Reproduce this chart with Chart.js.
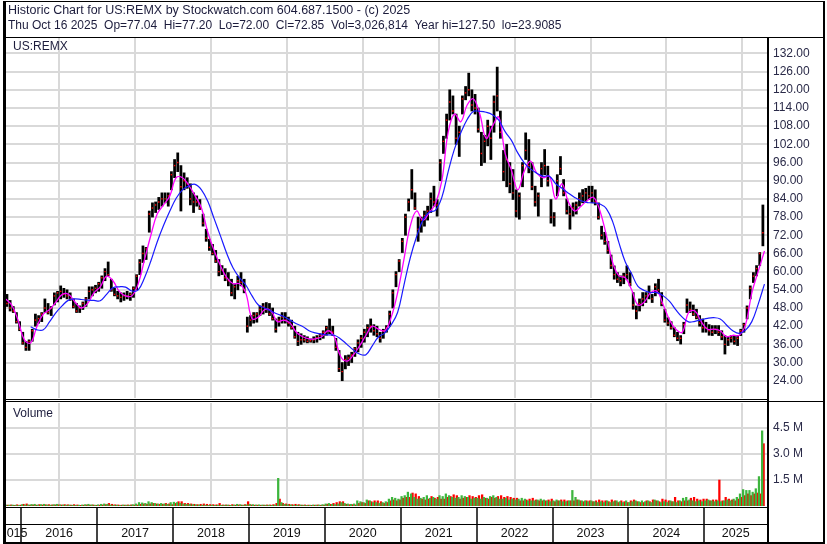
<!DOCTYPE html>
<html>
<head>
<meta charset="utf-8">
<script src="https://cdn.jsdelivr.net/npm/chart.js@4.4.1/dist/chart.umd.min.js"></script>
<style>
  body { margin: 0; background: #fff; }
  #wrap { position: relative; width: 827px; height: 544px; overflow: hidden; font-family: "Liberation Sans", Arial, sans-serif; }
  .txt { position: absolute; font-size: 12px; color: #1c1c3c; white-space: pre; line-height: 14px; }
  canvas { position: absolute; left: 0; }
  .ln { position: absolute; background: #000; }
</style>
</head>
<body>
<div id="wrap">
  <canvas id="price" width="827" height="402" style="top:0"></canvas>
  <canvas id="vol" width="827" height="142" style="top:402px"></canvas>

  <div class="txt" style="left:8px;top:3px;font-size:12.5px">Historic Chart for US:REMX by Stockwatch.com 604.687.1500 - (c) 2025</div>
  <div class="txt" style="left:8px;top:18px">Thu Oct 16 2025  Op=77.04  Hi=77.20  Lo=72.00  Cl=72.85  Vol=3,026,814  Year hi=127.50  lo=23.9085</div>
  <div class="txt" style="left:13px;top:39px">US:REMX</div>
  <div class="txt" style="left:13px;top:406px">Volume</div>

  <!-- frame -->
  <div class="ln" style="left:3px;top:1px;width:822px;height:1px"></div>
  <div class="ln" style="left:3px;top:1px;width:3px;height:542px"></div>
  <div class="ln" style="left:823px;top:1px;width:2px;height:543px"></div>
  <div class="ln" style="left:3px;top:37px;width:822px;height:1px"></div>
  <div class="ln" style="left:767px;top:37px;width:2px;height:507px"></div>
  <div class="ln" style="left:3px;top:399px;width:765px;height:1px"></div>
  <div class="ln" style="left:3px;top:401px;width:822px;height:1px"></div>
  <div class="ln" style="left:3px;top:507px;width:765px;height:1px"></div>
  <div class="ln" style="left:3px;top:524px;width:765px;height:1px"></div>
  <div class="ln" style="left:3px;top:542px;width:822px;height:2px"></div>
</div>

<script>
// semi-monthly bars, Oct 2015 (second half) .. Oct 2025 (first half)
// x unit = months since Jan 1 2016
const firstBar = -2.25;
const barStep = 0.5;

const lows = [
  48.5, 47, 46.5, 43, 40.5,
  36, 34, 34, 37, 42, 43, 43.5, 46.5, 46, 45.5, 49, 50, 51, 51.5, 51, 50.5, 48, 46.5, 46.5, 47.5, 48.5, 51, 52, 53,
  53.5, 54.5, 57, 58.6, 53.5, 52, 51, 50, 50.5, 51, 50.5, 51.5, 54, 59, 63, 64, 73, 78, 79.5, 80.5, 81.6, 82.7, 81.6, 87,
  91, 93, 80, 87, 87.5, 82, 79.5, 81.6, 80.5, 75, 70, 67, 65.5, 63, 58.6, 59, 57, 55.3, 52, 51, 54, 55.3, 53, 40,
  42, 43, 43.3, 45.5, 46, 46.5, 45.5, 44, 40, 42, 43, 43, 42, 41, 38, 35.6, 36, 36.7, 36.5, 36.7, 36.5, 36.7, 37.5, 38,
  39, 39.5, 38.9, 34, 27, 24, 27.9, 29, 30, 32, 33.5, 35, 36.7, 38.5, 40, 39, 38.5, 36.7, 38, 40, 42, 48, 55, 60,
  66.3, 72, 80, 84, 80.5, 70, 73, 75, 77, 79.5, 81.6, 78.3, 90, 99, 104, 110, 112, 102, 98, 112, 116.7, 118, 113, 112,
  106, 95, 96, 101.5, 97, 106, 113, 104, 90, 88, 86, 83.8, 78, 77.3, 88, 97, 92.6, 87, 81.6, 78.3, 88, 92, 88.2, 76,
  75, 85, 92, 85, 79, 74, 78.3, 79, 81.6, 82.7, 83, 83.8, 82.7, 82, 77.3, 70.7, 69, 66, 61, 57.5, 56.4, 55.3, 56, 57.5,
  55.3, 47.6, 44.4, 47, 48.7, 49.8, 51, 49.8, 52, 53, 48.7, 43.3, 42.2, 41, 38.5, 37.2, 36.1, 39.5, 46.5, 46.5, 45.5, 44.4, 42, 40,
  40, 39, 38.9, 39.5, 38.9, 37.5, 32.8, 35.6, 36.7, 36, 35.6, 38.9, 40, 44.4, 51, 56.4, 58.6, 62, 68.5
];
const highs = [
  52.5, 50.5, 48.5, 46.5, 43.5,
  40, 37, 37.5, 41, 46, 45.5, 46.5, 51, 49.5, 48.5, 53, 53.5, 55.3, 54.5, 54, 53, 51, 49.5, 48.7, 50, 51.5, 55, 55, 55.5,
  56.5, 58.6, 61, 63.2, 57.5, 54.5, 53.5, 53, 53, 53.5, 53, 55, 59, 64, 68.5, 68, 80, 82.7, 83, 84.5, 86, 86, 86, 93,
  97, 99.2, 95, 92.6, 91, 89, 86, 85, 83.8, 79, 74, 70.7, 69, 67, 64, 62, 61, 59.7, 57.5, 56, 58.5, 59.7, 57.5, 45,
  45.5, 46.5, 46.5, 48.7, 49.5, 49.8, 49.5, 48, 44.4, 45, 46.5, 46.5, 45, 44, 42, 40, 39.5, 38.9, 38.5, 37.8, 38.5, 38.9, 39.5, 40.5,
  42, 44.4, 42, 38, 34, 30, 32.3, 32.5, 33.4, 35, 37.5, 39, 41, 42.5, 44.4, 42.5, 42, 40, 41, 42.2, 47, 54, 60, 64,
  71, 79, 84, 93.7, 86, 78, 78, 80, 81.6, 86, 88.2, 83.8, 97, 104.7, 112, 120, 118, 112, 108, 118, 121.1, 125.5, 120, 118.5,
  114, 106, 105, 110, 108, 118, 127.5, 113, 100, 102, 96, 93.7, 87, 86, 96, 105.8, 103.6, 96, 88.2, 86, 96, 100.3, 94.8, 83.8,
  79.5, 92, 98, 90.4, 84, 81.6, 82.7, 83, 86, 87.1, 87.5, 88.2, 88.2, 87, 82.7, 75, 73, 70, 65.5, 61.9, 59.7, 58.6, 59.5, 61.9,
  59.7, 53.1, 48.7, 51, 53.1, 53.1, 55.3, 52.5, 56, 57.5, 53.1, 47.6, 44.8, 43.5, 41.5, 40, 38.9, 43.3, 51, 50, 49, 47.6, 45.5, 44.4,
  43.3, 42.5, 42.2, 42.2, 42.2, 40.5, 38.9, 38.5, 38.9, 39, 38.9, 41, 43, 48.7, 55.3, 59.7, 62, 66.3, 82
];
const closes = [
  49.5, 48, 47, 43.5, 41,
  36.5, 35, 37, 40.5, 44, 44.5, 46, 48, 46.5, 48, 52, 53, 53.5, 52.5, 52, 51, 48.5, 47, 48, 49.5, 51, 53.5, 54, 54.5,
  56, 58, 60, 59, 54, 52.5, 52, 51.5, 52, 52, 52.5, 54.5, 58.5, 63, 66, 67.5, 79, 81, 82, 83, 84, 84, 85, 92,
  95, 96, 88, 90, 89, 84, 83, 83, 81, 76, 71, 68, 66, 63.5, 60, 60.5, 58, 57, 53, 55, 57, 56.5, 54, 42,
  44, 45.5, 46, 47.5, 48.5, 47.5, 46, 44.5, 41, 44, 45, 44, 43, 41.5, 38.5, 37, 37.5, 37.5, 37, 37.2, 37.5, 38.2, 39, 40,
  41.5, 40.5, 40, 35, 28, 27, 31, 31.5, 32.5, 34.5, 36.5, 38, 40, 41.5, 42, 40.5, 39.5, 38, 40.5, 41.5, 46, 53, 59, 63.5,
  70, 78, 83, 87, 81, 74, 77, 78.5, 80, 84, 83, 82, 96, 103, 110, 116, 113, 104, 106, 117, 119, 120, 115, 114,
  107, 99, 103, 108, 104, 116, 118, 106, 93, 97, 89, 86, 80, 85, 95, 100, 95, 88, 83, 85, 94, 95, 90, 78,
  78, 90, 94, 86, 80, 79, 81, 82, 84, 85, 86, 85, 86, 83, 78, 72, 70, 67, 62, 59, 57.5, 57, 58.5, 59,
  56, 49, 47, 49.5, 51, 52, 53, 51, 55, 54, 49.5, 44, 43, 41.5, 39, 38, 38, 42.5, 49, 47.5, 46, 45, 43, 41.5,
  41.5, 40.5, 40, 41, 40, 38.5, 36, 37.5, 38, 37, 38, 40.5, 42.5, 48, 54.5, 58.5, 61, 66, 72.85
];

// volume (millions), biggest up-day and down-day in each half month
const volUp = [
  0.06, 0.05, 0.06, 0.05, 0.04,
  0.08, 0.06, 0.07, 0.09, 0.1, 0.06, 0.08, 0.1, 0.06, 0.05, 0.08, 0.1, 0.07, 0.06, 0.05, 0.06, 0.05, 0.04, 0.05, 0.06, 0.08, 0.1, 0.07, 0.05,
  0.07, 0.1, 0.12, 0.1, 0.06, 0.05, 0.05, 0.04, 0.06, 0.05, 0.05, 0.08, 0.12, 0.2, 0.18, 0.15, 0.25, 0.2, 0.15, 0.12, 0.15, 0.12, 0.1, 0.2,
  0.22, 0.2, 0.15, 0.12, 0.1, 0.1, 0.08, 0.07, 0.06, 0.05, 0.05, 0.04, 0.05, 0.04, 0.05, 0.04, 0.05, 0.06, 0.04, 0.06, 0.1, 0.08, 0.05, 0.07,
  0.1, 0.08, 0.06, 0.07, 0.06, 0.05, 0.05, 0.04, 0.06, 1.6, 0.2, 0.1, 0.08, 0.06, 0.05, 0.05, 0.06, 0.05, 0.04, 0.05, 0.06, 0.05, 0.06, 0.08,
  0.12, 0.15, 0.1, 0.08, 0.12, 0.2, 0.15, 0.12, 0.1, 0.12, 0.3, 0.25, 0.2, 0.35, 0.3, 0.2, 0.2, 0.15, 0.2, 0.25, 0.4, 0.5, 0.45, 0.4,
  0.55, 0.6, 0.8, 0.7, 0.5, 0.4, 0.45, 0.5, 0.6, 0.45, 0.5, 0.4, 0.6, 0.55, 0.7, 0.6, 0.5, 0.45, 0.5, 0.6, 0.55, 0.5, 0.4, 0.45,
  0.45, 0.4, 0.5, 0.45, 0.55, 0.6, 0.5, 0.4, 0.4, 0.45, 0.35, 0.4, 0.35, 0.4, 0.45, 0.4, 0.3, 0.3, 0.3, 0.35, 0.4, 0.35, 0.3, 0.25,
  0.3, 0.35, 0.3, 0.25, 0.25, 0.3, 0.9, 0.5, 0.35, 0.3, 0.3, 0.25, 0.3, 0.25, 0.2, 0.25, 0.2, 0.3, 0.2, 0.25, 0.3, 0.25, 0.2, 0.3,
  0.2, 0.25, 0.3, 0.25, 0.3, 0.25, 0.3, 0.2, 0.35, 0.3, 0.2, 0.25, 0.2, 0.3, 0.25, 0.2, 0.3, 0.45, 0.5, 0.35, 0.3, 0.25, 0.3, 0.25,
  0.3, 0.35, 0.3, 0.25, 0.3, 0.25, 0.3, 0.35, 0.3, 0.4, 0.5, 0.7, 0.95, 0.9, 0.9, 0.8, 1.0, 1.7, 4.34
];
const volDown = [
  0.05, 0.06, 0.04, 0.07, 0.05,
  0.1, 0.12, 0.05, 0.06, 0.05, 0.08, 0.06, 0.07, 0.08, 0.06, 0.06, 0.07, 0.06, 0.08, 0.07, 0.05, 0.08, 0.06, 0.04, 0.05, 0.06, 0.05, 0.06, 0.04,
  0.05, 0.06, 0.08, 0.15, 0.1, 0.07, 0.06, 0.05, 0.05, 0.06, 0.06, 0.05, 0.06, 0.1, 0.12, 0.1, 0.12, 0.15, 0.12, 0.1, 0.1, 0.15, 0.12, 0.08,
  0.15, 0.25, 0.25, 0.15, 0.15, 0.12, 0.1, 0.08, 0.1, 0.12, 0.1, 0.08, 0.08, 0.07, 0.15, 0.06, 0.06, 0.05, 0.08, 0.05, 0.06, 0.05, 0.08, 0.25,
  0.06, 0.05, 0.05, 0.04, 0.05, 0.06, 0.06, 0.08, 0.15, 0.4, 0.15, 0.12, 0.1, 0.08, 0.1, 0.08, 0.05, 0.06, 0.05, 0.04, 0.05, 0.06, 0.04, 0.05,
  0.1, 0.1, 0.15, 0.2, 0.25, 0.25, 0.1, 0.08, 0.08, 0.06, 0.15, 0.2, 0.15, 0.3, 0.25, 0.3, 0.3, 0.25, 0.15, 0.2, 0.3, 0.35, 0.3, 0.35,
  0.45, 0.5, 0.5, 0.75, 0.7, 0.55, 0.4, 0.35, 0.4, 0.55, 0.45, 0.5, 0.4, 0.4, 0.5, 0.55, 0.65, 0.6, 0.4, 0.45, 0.5, 0.6, 0.55, 0.5,
  0.6, 0.65, 0.45, 0.4, 0.5, 0.45, 0.55, 0.6, 0.5, 0.55, 0.5, 0.45, 0.45, 0.3, 0.3, 0.35, 0.4, 0.45, 0.35, 0.3, 0.3, 0.3, 0.35, 0.4,
  0.25, 0.3, 0.35, 0.35, 0.3, 0.3, 0.3, 0.35, 0.3, 0.25, 0.3, 0.3, 0.25, 0.3, 0.35, 0.3, 0.3, 0.25, 0.35, 0.3, 0.2, 0.3, 0.25, 0.2,
  0.3, 0.35, 0.25, 0.2, 0.2, 0.3, 0.25, 0.35, 0.3, 0.25, 0.4, 0.35, 0.3, 0.25, 0.5, 0.3, 0.25, 0.3, 0.3, 0.45, 0.5, 0.4, 0.35, 0.4,
  0.4, 0.3, 0.35, 0.35, 1.5, 0.3, 0.5, 0.4, 0.35, 0.3, 0.4, 0.5, 0.6, 0.7, 0.6, 0.7, 0.75, 0.7, 3.6
];

// moving averages, one value per month Oct 2015 .. Oct 2025 (mid-month)
const firstMonth = -2.5;
const maPink = [
  51, 49, 44,
  37.5, 36.5, 42, 46, 47.5, 50, 52.5, 52.5, 50, 48, 49.5, 53,
  55, 58.5, 57, 53.5, 52, 52, 56, 64, 72, 79, 82, 85,
  91, 91, 88.5, 85, 81, 73, 67, 62, 58, 56, 56, 53,
  44.5, 45, 47.5, 47, 43.5, 44, 43, 40, 38.5, 37.8, 37.8, 38.5,
  40.5, 38.5, 32, 30.5, 32.5, 35.5, 39, 42, 41, 40.5, 45, 53,
  64, 75, 80, 77, 79.5, 82.5, 90, 106, 112, 109.5, 115, 117,
  112, 104, 108, 111, 99, 93.5, 87, 93, 96.5, 92.5, 91, 91.5,
  84, 89, 83, 80, 81.6, 83.5, 84.5, 80, 72, 63, 58.6, 58,
  54, 49, 50, 53, 53.5, 49, 44, 41, 40, 46.5, 47, 43.5,
  41, 41, 40.5, 38.5, 39, 39, 42.5, 53, 60, 66.8
];
const maBlue = [
  null, null, null,
  null, 41.8, 40.8, 40.8, 43.5, 46.5, 48.8, 50.6, 51, 50.8, 50.6, 50.5,
  50.4, 52.5, 54.7, 55, 54.9, 53.6, 54, 58, 63.5, 69.8, 75.2, 80,
  84.2, 87, 88.3, 88.8, 87, 83.2, 77.5, 71.8, 66, 61.2, 58, 55.6,
  52, 49, 48, 47, 46, 45.2, 44, 42.8, 41.9, 40.5, 39.8, 39.4,
  39.1, 39, 37.8, 36, 34.2, 32.8, 32.6, 35.5, 38.5, 39.8, 42.5, 46.5,
  55.5, 64.5, 71.5, 77, 79.6, 80.3, 84.5, 93, 100.5, 105.8, 110.2, 112.9,
  112.9, 112.6, 111.8, 110, 106.2, 103.3, 99.2, 96, 93.9, 92.5, 91.5, 91.5,
  89, 87.5, 85.9, 84.5, 83.4, 82.8, 82.7, 82.3, 80.8, 76.5, 69.5, 63.2,
  59.3, 55.1, 53.8, 53.1, 53.1, 52, 50.2, 47.4, 45, 43.4, 43.6, 44.1,
  44.6, 44.8, 44.4, 42.4, 40.5, 39.6, 40.7, 43.5, 49.2, 55.9
];

const years = ['2015', '2016', '2017', '2018', '2019', '2020', '2021', '2022', '2023', '2024', '2025'];
const priceTicks = [24, 30, 36, 42, 48, 54, 60, 66, 72, 78, 84, 90, 96, 102, 108, 114, 120, 126, 132];
const volTicks = [1.5, 3.0, 4.5];

const xMin = -2.4, xMax = 117.9;
const gridColor = '#d9d9d9';
const labelFont = { family: 'Liberation Sans', size: 12 };
const labelColor = '#2a2a48';

const barX = i => firstBar + i * barStep;
const yearStart = y => (parseInt(y, 10) - 2016) * 12;
const yearTicks = years.slice(1).map(y => ({ value: yearStart(y) }));

const xScale = () => ({
  type: 'linear',
  min: xMin,
  max: xMax,
  offset: false,
  border: { display: false },
  grid: { color: gridColor, lineWidth: 2, drawTicks: false },
  ticks: { display: false },
  afterBuildTicks: s => { s.ticks = yearTicks.slice(); },
  afterFit: s => { s.height = 0; s.paddingLeft = 0; s.paddingRight = 0; }
});

new Chart(document.getElementById('price'), {
  type: 'bar',
  data: {
    datasets: [
      {
        type: 'line', order: 0,
        data: maBlue.map((v, j) => ({ x: firstMonth + j, y: v })),
        borderColor: '#1a1aff', borderWidth: 1.2, pointRadius: 0, tension: 0.4
      },
      {
        type: 'line', order: 1,
        data: maPink.map((v, j) => ({ x: firstMonth + j, y: v })),
        borderColor: '#ff00ff', borderWidth: 1.3, pointRadius: 0, tension: 0.4
      },
      {
        type: 'scatter', order: 2,
        data: closes.map((v, i) => ({ x: barX(i), y: v })),
        pointStyle: 'rect', pointRadius: 1, backgroundColor: '#ff0000', borderWidth: 0
      },
      {
        type: 'bar', order: 3,
        data: lows.map((v, i) => ({ x: barX(i), y: [v, highs[i]] })),
        backgroundColor: '#000', barThickness: 2.1, grouped: false
      }
    ]
  },
  options: {
    responsive: false,
    animation: false,
    events: [],
    layout: { padding: { left: 6, top: 38, right: 0, bottom: 3 } },
    plugins: { legend: { display: false }, tooltip: { enabled: false } },
    scales: {
      x: xScale(),
      y: {
        type: 'linear', position: 'right', min: 18.3, max: 137.1,
        border: { display: false },
        grid: { color: gridColor, lineWidth: 2, drawTicks: false },
        ticks: { font: labelFont, color: labelColor, padding: 6, autoSkip: false, callback: v => v.toFixed(2) },
        afterBuildTicks: s => { s.ticks = priceTicks.map(v => ({ value: v })); },
        afterFit: s => { s.width = 60; s.paddingTop = 0; s.paddingBottom = 0; }
      }
    }
  }
});

// year separators and year names under the volume panel
const yearRows = {
  id: 'yearRows',
  afterDraw(chart) {
    const { ctx, chartArea, scales: { x } } = chart;
    const top = 106, mid = 123, bottom = 141;
    ctx.save();
    ctx.strokeStyle = '#444';
    ctx.lineWidth = 2;
    yearTicks.forEach(t => {
      const px = Math.round(x.getPixelForValue(t.value));
      ctx.beginPath();
      ctx.moveTo(px, top);
      ctx.lineTo(px, bottom);
      ctx.stroke();
    });
    ctx.beginPath();
    ctx.rect(chartArea.left, mid, chartArea.right - chartArea.left, bottom - mid);
    ctx.clip();
    ctx.fillStyle = '#111';
    ctx.font = '12.5px "Liberation Sans"';
    ctx.textAlign = 'center';
    ctx.textBaseline = 'middle';
    years.forEach(y => {
      const a = Math.max(yearStart(y), xMin), b = Math.min(yearStart(y) + 12, xMax);
      const cx = (x.getPixelForValue(a) + x.getPixelForValue(b)) / 2;
      ctx.fillText(y, cx, 132);
    });
    ctx.restore();
  }
};

new Chart(document.getElementById('vol'), {
  type: 'bar',
  data: {
    datasets: [
      {
        data: volUp.map((v, i) => ({ x: barX(i) - 0.12, y: v })),
        backgroundColor: '#3db53d', barThickness: 1.6, grouped: false
      },
      {
        data: volDown.map((v, i) => ({ x: barX(i) + 0.12, y: v })),
        backgroundColor: '#ff0000', barThickness: 1.6, grouped: false
      }
    ]
  },
  options: {
    responsive: false,
    animation: false,
    events: [],
    layout: { padding: { left: 6, top: 1, right: 0, bottom: 38 } },
    plugins: { legend: { display: false }, tooltip: { enabled: false } },
    scales: {
      x: xScale(),
      y: {
        type: 'linear', position: 'right', min: 0, max: 5.95,
        border: { display: false },
        grid: { color: gridColor, lineWidth: 2, drawTicks: false },
        ticks: { font: labelFont, color: labelColor, padding: 6, autoSkip: false, callback: v => v.toFixed(1) + ' M' },
        afterBuildTicks: s => { s.ticks = volTicks.map(v => ({ value: v })); },
        afterFit: s => { s.width = 60; s.paddingTop = 0; s.paddingBottom = 0; }
      }
    }
  },
  plugins: [yearRows]
});
</script>
</body>
</html>
